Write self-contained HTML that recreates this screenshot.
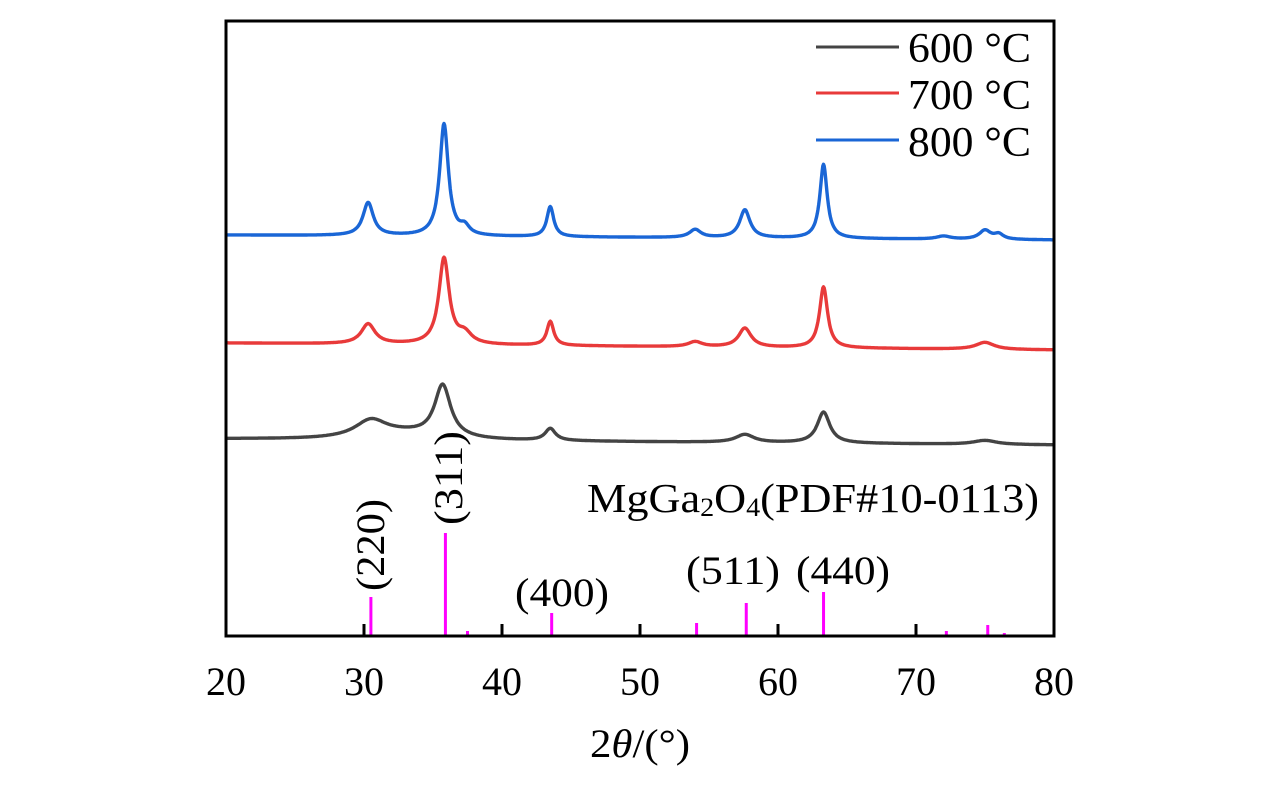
<!DOCTYPE html>
<html><head><meta charset="utf-8"><style>
html,body{margin:0;padding:0;background:#fff;}
svg{display:block;font-family:"Liberation Serif",serif;}
</style></head><body>
<svg id="chart" width="1276" height="787" viewBox="0 0 1276 787" xmlns="http://www.w3.org/2000/svg">
<g id="series"></g>
<g id="sticks"></g>
<rect x="226" y="21" width="828" height="615" fill="none" stroke="#000" stroke-width="3"/>
<g id="xticks"></g>
<text x="640" y="757" font-size="40" text-anchor="middle" textLength="100" lengthAdjust="spacingAndGlyphs">2<tspan font-style="italic">θ</tspan>/(°)</text>
<g>
<line x1="816" y1="47" x2="899" y2="47" stroke="#444" stroke-width="3"/>
<text x="908" y="62" font-size="42" textLength="123" lengthAdjust="spacingAndGlyphs">600 °C</text>
<line x1="816" y1="93" x2="899" y2="93" stroke="#e83a3a" stroke-width="3"/>
<text x="908" y="109" font-size="42" textLength="123" lengthAdjust="spacingAndGlyphs">700 °C</text>
<line x1="816" y1="140" x2="899" y2="140" stroke="#1a66d6" stroke-width="3"/>
<text x="908" y="156" font-size="42" textLength="123" lengthAdjust="spacingAndGlyphs">800 °C</text>
</g>
<text x="587" y="512" font-size="41" textLength="452" lengthAdjust="spacingAndGlyphs">MgGa<tspan font-size="26" dy="4">2</tspan><tspan dy="-4">O</tspan><tspan font-size="26" dy="4">4</tspan><tspan dy="-4">(PDF#10-0113)</tspan></text>
<text transform="translate(384,545) rotate(-90)" font-size="40" text-anchor="middle" textLength="92" lengthAdjust="spacingAndGlyphs">(220)</text>
<text transform="translate(462,478) rotate(-90)" font-size="40" text-anchor="middle" textLength="94" lengthAdjust="spacingAndGlyphs">(311)</text>
<text x="562" y="606" font-size="40" text-anchor="middle" textLength="94" lengthAdjust="spacingAndGlyphs">(400)</text>
<text x="733" y="584" font-size="40" text-anchor="middle" textLength="94" lengthAdjust="spacingAndGlyphs">(511)</text>
<text x="843" y="584" font-size="40" text-anchor="middle" textLength="94" lengthAdjust="spacingAndGlyphs">(440)</text>
</svg>
<script>
const xTicks=[20,30,40,50,60,70,80];
const stickPos=[30.5,35.9,37.5,43.6,54.1,57.7,63.3,72.2,75.2,76.4];
const stickInt=[39,103,5,23,13,33,44,5,11,3];
// series: baseline at 20° and 80°, then peaks (position, height, half-width)
const s800Base=[401,396];
const s800Pos=[30.3,35.8,37.3,43.5,54.0,57.6,63.3,72.0,75.0,76.0];
const s800Height=[33,112,8,30,8,28,74,3,9,5];
const s800Width=[0.45,0.38,0.4,0.3,0.5,0.45,0.32,0.6,0.5,0.4];
const s700Base=[293,286];
const s700Pos=[30.3,35.8,37.3,43.5,54.0,57.6,63.3,75.0];
const s700Height=[20,86,10,24,5,19,61,7];
const s700Width=[0.6,0.45,0.6,0.3,0.6,0.55,0.35,0.8];
const s600Base=[197,191];
const s600Pos=[30.5,35.7,43.5,57.6,63.3,75.0,33.0];
const s600Height=[17,52,12,8,31,4,6];
const s600Width=[1.4,0.7,0.45,0.8,0.55,1.0,3.0];
const X0=226,X1=1054,Y0=636;
const xs=d=>X0+(d-20)*(X1-X0)/60;
const ys=v=>Y0-v;
const NS="http://www.w3.org/2000/svg";
function curve(base,pos,h,w,t){let v=base[0]+(base[1]-base[0])*(t-20)/60;for(let i=0;i<pos.length;i++){const z=(t-pos[i])/w[i];v+=h[i]/(1+z*z);}return v;}
function drawSeries(base,pos,h,w,color,name){let d="";for(let t=20;t<=80.0001;t+=0.05){d+=(d?"L":"M")+xs(t).toFixed(1)+","+ys(curve(base,pos,h,w,t)).toFixed(1);}
const p=document.createElementNS(NS,"path");p.setAttribute("d",d);p.setAttribute("fill","none");p.setAttribute("stroke",color);p.setAttribute("stroke-width","3.4");p.setAttribute("stroke-linejoin","round");


document.getElementById("series").appendChild(p);}
drawSeries(s600Base,s600Pos,s600Height,s600Width,"#444","series-600c");
drawSeries(s700Base,s700Pos,s700Height,s700Width,"#e83a3a","series-700c");
drawSeries(s800Base,s800Pos,s800Height,s800Width,"#1a66d6","series-800c");
const sg=document.getElementById("sticks");
stickPos.forEach((p,i)=>{const l=document.createElementNS(NS,"line");l.setAttribute("x1",xs(p));l.setAttribute("x2",xs(p));l.setAttribute("y1",Y0);l.setAttribute("y2",ys(stickInt[i]));l.setAttribute("stroke","#ff00ff");l.setAttribute("stroke-width","3");


sg.appendChild(l);});
const xg=document.getElementById("xticks");
xTicks.forEach(t=>{if(t>20&&t<80){const l=document.createElementNS(NS,"line");l.setAttribute("x1",xs(t));l.setAttribute("x2",xs(t));l.setAttribute("y1",Y0);l.setAttribute("y2",Y0-12);l.setAttribute("stroke","#000");l.setAttribute("stroke-width","3");


xg.appendChild(l);}
const tx=document.createElementNS(NS,"text");tx.setAttribute("x",xs(t));tx.setAttribute("y",695);tx.setAttribute("font-size","40");tx.setAttribute("text-anchor","middle");tx.textContent=t;


xg.appendChild(tx);});
</script>
</body></html>
